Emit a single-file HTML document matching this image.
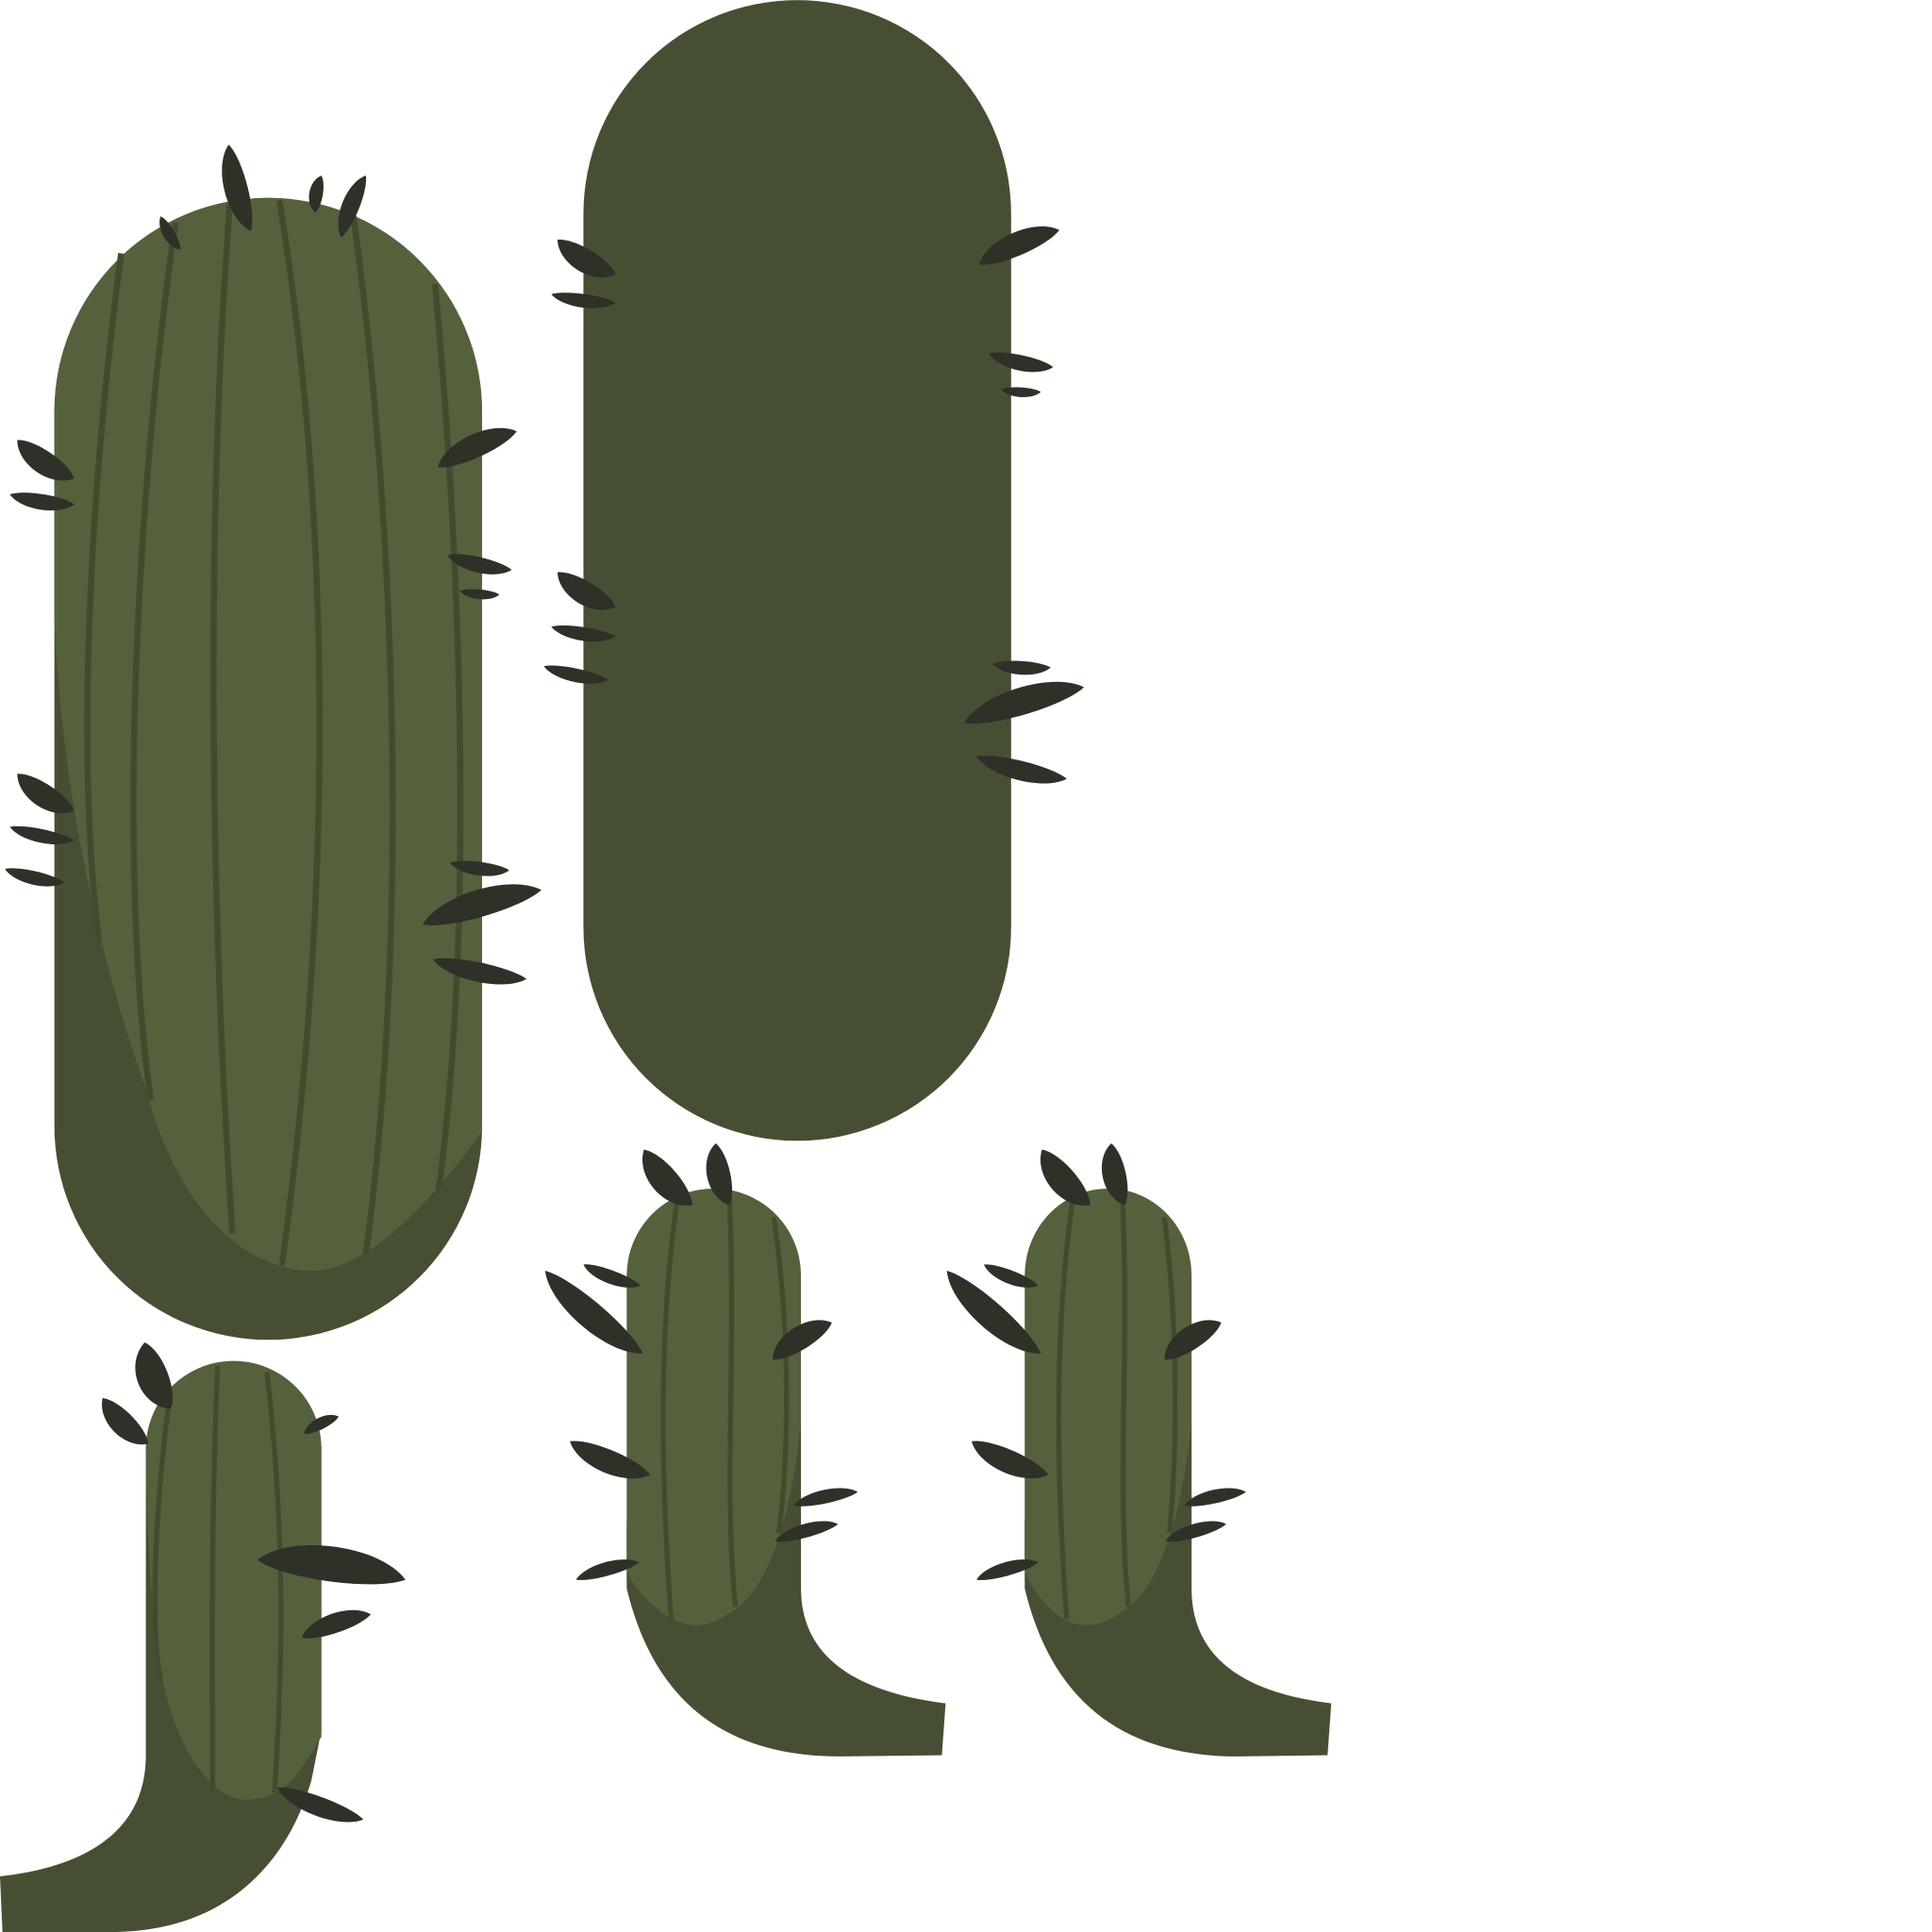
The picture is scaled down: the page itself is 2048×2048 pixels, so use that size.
<!DOCTYPE html>
<html><head><meta charset="utf-8"><style>html,body{margin:0;padding:0;background:#fff}svg{display:block}</style></head>
<body>
<svg id="art" width="2048" height="2048" viewBox="0 0 1563 1563" xmlns="http://www.w3.org/2000/svg">
<g>
  <path fill="#464f33" d="M44,333 A173,173 0 0 1 390,333 L390,911 A173,173 0 0 1 44,911 Z"/>
  <path fill="#55613d" d="M44,333 A173,173 0 0 1 390,333 L390,915 C340,985 290,1030 250,1028 C180,1025 135,950 118,880 C85,790 50,650 44,500 Z"/>
  <g fill="none" stroke="#434b2f" stroke-width="5">
    <path d="M98,205 C75,380 60,600 80,760"/>
    <path d="M142,180 C110,400 95,700 122,890"/>
    <path d="M186,165 C168,400 168,700 188,998"/>
    <path d="M226,162 C268,420 270,720 228,1024"/>
    <path d="M286,175 C322,440 330,760 296,1015"/>
    <path d="M352,230 C375,480 382,760 355,962"/>
  </g>
</g>
<g>
  <path fill="#464f33" d="M472,173 A173,173 0 0 1 818,173 L818,750 A173,173 0 0 1 472,750 Z"/>
</g>
<g>
  <path fill="#464f33" d="M118,1170 L118,1420 C118,1490 55,1512 0,1518 L2,1563 L90,1563 C180,1563 232,1510 252,1440 L260,1400 L260,1170 Z"/>
  <path fill="#55613d" d="M118,1172 A71,71 0 0 1 260,1172 L260,1405 C245,1430 232,1455 200,1456 C165,1456 138,1400 130,1350 C122,1300 118,1230 118,1172 Z"/>
  <g fill="none" stroke="#434b2f" stroke-width="4">
    <path d="M136,1140 C122,1250 124,1330 130,1360"/>
    <path d="M176,1105 C170,1250 172,1360 172,1450"/>
    <path d="M216,1110 C232,1250 228,1360 222,1450"/>
  </g>
</g>
<g>
  <path fill="#464f33" d="M507,1230 L507,1285 C530,1380 590,1421 680,1421 L762,1420 L765,1378 C700,1370 648,1345 648,1285 L648,1150 Z"/>
  <path fill="#55613d" d="M507,1032 A70,70 0 0 1 648,1032 L648,1150 C640,1230 620,1290 590,1305 C575,1316 560,1318 545,1310 C525,1300 510,1280 507,1270 Z"/>
  <g fill="none" stroke="#434b2f" stroke-width="4">
    <path d="M548,970 C532,1080 535,1200 543,1310"/>
    <path d="M590,965 C596,1100 585,1200 595,1300"/>
    <path d="M626,985 C640,1080 638,1180 630,1240"/>
  </g>
</g>
<g transform="translate(322,0)">
  <path fill="#464f33" d="M507,1230 L507,1285 C530,1380 590,1421 680,1421 L752,1420 L755,1378 C690,1370 642,1345 642,1285 L642,1150 Z"/>
  <path fill="#55613d" d="M507,1032 A67,70 0 0 1 642,1032 L642,1150 C634,1230 614,1290 584,1305 C569,1316 554,1318 539,1310 C522,1300 510,1280 507,1270 Z"/>
  <g fill="none" stroke="#434b2f" stroke-width="4">
    <path d="M546,970 C530,1080 533,1200 541,1310"/>
    <path d="M586,965 C592,1100 581,1200 591,1300"/>
    <path d="M620,985 C632,1080 630,1180 624,1240"/>
  </g>
</g>
<g id="spines" fill="#2d3128"></g>
</svg>
<script>
const spineStarts = [
 [185,117,203,187,12],[260,142,255,172,7],[296,142,276,192,9],[130,175,146,202,6],
 [14,356,60,387,12],[8,400,60,408,8],[14,626,60,656,12],[8,669,60,680,7],[4,703,52,714,7],
 [418,349,354,378,12],[362,449,414,461,8],[372,478,404,481,5],[364,698,412,704,7],[438,720,342,748,14],[350,776,426,792,10],
 [451,194,498,222,12],[446,238,498,245,7],[451,463,498,491,12],[446,507,498,515,7],[440,539,492,550,7],
 [857,186,792,214,12],[800,286,852,297,8],[810,315,842,317,5],[803,537,850,540,7],[877,556,780,585,14],[790,612,863,630,10],
 [117,1086,138,1140,16],[83,1131,120,1168,12],[274,1146,246,1160,6],[328,1278,208,1262,18],[300,1306,244,1325,10],[224,1446,294,1472,10],
 [521,930,560,975,14],[579,925,590,975,12],[472,1023,518,1040,7],[441,1028,520,1095,14],[673,1070,625,1100,12],[461,1166,526,1193,12],[694,1207,642,1218,7],[678,1233,627,1247,7],[517,1264,466,1278,7],
 [843,930,882,975,14],[899,925,910,975,12],[796,1023,840,1040,7],[766,1028,842,1095,14],[988,1070,942,1100,12],[786,1166,848,1193,12],[1008,1207,958,1218,7],[992,1233,943,1247,7],[840,1264,790,1278,7]
];
const g = document.getElementById('spines');
spineStarts.forEach((s, i) => {
  const [x1,y1,x2,y2,w] = s;
  const mx=(x1+x2)/2, my=(y1+y2)/2, dx=x2-x1, dy=y2-y1, L=Math.hypot(dx,dy)||1;
  const nx=-dy/L*w, ny=dx/L*w;
  const p = document.createElementNS('http://www.w3.org/2000/svg','path');
  p.setAttribute('d',`M${x1},${y1} C${x1+dx*0.2+nx*1.4},${y1+dy*0.2+ny*1.4} ${x1+dx*0.8+nx*1.4},${y1+dy*0.8+ny*1.4} ${x2},${y2} C${x1+dx*0.8-nx*0.7},${y1+dy*0.8-ny*0.7} ${x1+dx*0.2-nx*0.7},${y1+dy*0.2-ny*0.7} ${x1},${y1} Z`);
  
  
  g.appendChild(p);
});
</script>
</body></html>
